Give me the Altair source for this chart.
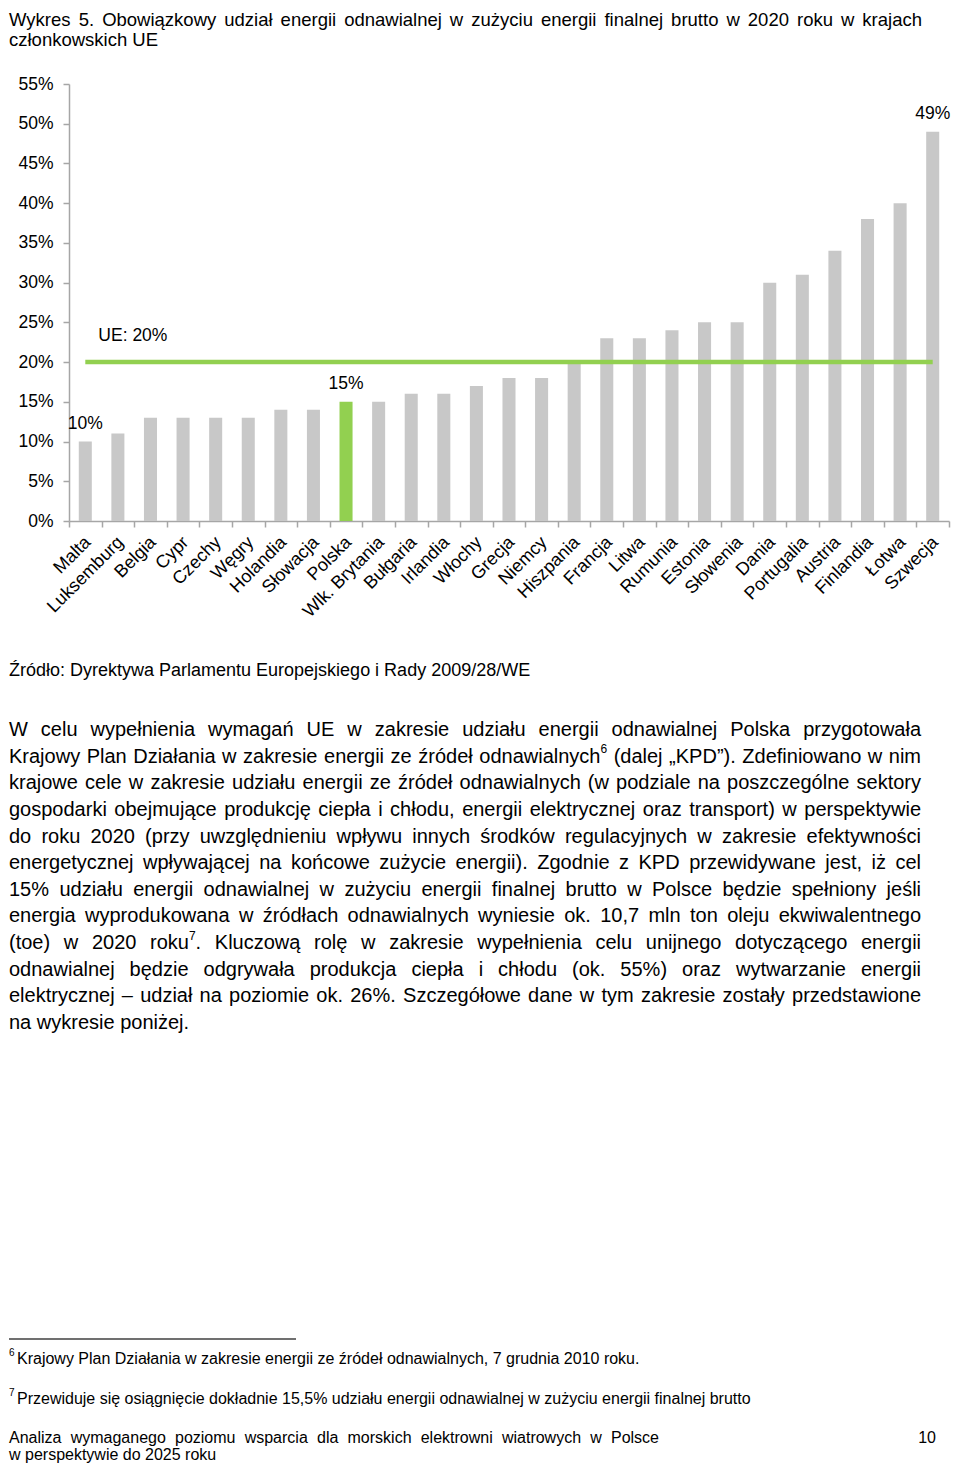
import re
import altair as alt
import pandas as pd

# ---------------- chart data ----------------
countries = ["Malta", "Luksemburg", "Belgia", "Cypr", "Czechy", "Węgry", "Holandia",
             "Słowacja", "Polska", "Wlk. Brytania", "Bułgaria", "Irlandia", "Włochy",
             "Grecja", "Niemcy", "Hiszpania", "Francja", "Litwa", "Rumunia", "Estonia",
             "Słowenia", "Dania", "Portugalia", "Austria", "Finlandia", "Łotwa", "Szwecja"]
targets = [10, 11, 13, 13, 13, 13, 14, 14, 15, 15, 16, 16, 17, 18, 18, 20, 23, 23, 24,
           25, 25, 30, 31, 34, 38, 40, 49]
eu_target = 20
highlight = "Polska"
labelled = ["Malta", "Polska", "Szwecja"]
y_ticks = [0, 5, 10, 15, 20, 25, 30, 35, 40, 45, 50, 55]

# ---------------- page text ----------------
title_lines = [
    "Wykres 5. Obowiązkowy udział energii odnawialnej w zużyciu energii finalnej brutto w 2020 roku w krajach",
    "członkowskich UE",
]
source_text = "Źródło: Dyrektywa Parlamentu Europejskiego i Rady 2009/28/WE"
body_lines = [
    "W celu wypełnienia wymagań UE w zakresie udziału energii odnawialnej Polska przygotowała",
    "Krajowy Plan Działania w zakresie energii ze źródeł odnawialnych{6} (dalej „KPD”). Zdefiniowano w nim",
    "krajowe cele w zakresie udziału energii ze źródeł odnawialnych (w podziale na poszczególne sektory",
    "gospodarki obejmujące produkcję ciepła i chłodu, energii elektrycznej oraz transport) w perspektywie",
    "do roku 2020 (przy uwzględnieniu wpływu innych środków regulacyjnych w zakresie efektywności",
    "energetycznej wpływającej na końcowe zużycie energii). Zgodnie z KPD przewidywane jest, iż cel",
    "15% udziału energii odnawialnej w zużyciu energii finalnej brutto w Polsce będzie spełniony jeśli",
    "energia wyprodukowana w źródłach odnawialnych wyniesie ok. 10,7 mln ton oleju ekwiwalentnego",
    "(toe) w 2020 roku{7}. Kluczową rolę w zakresie wypełnienia celu unijnego dotyczącego energii",
    "odnawialnej będzie odgrywała produkcja ciepła i chłodu (ok. 55%) oraz wytwarzanie energii",
    "elektrycznej – udział na poziomie ok. 26%. Szczegółowe dane w tym zakresie zostały przedstawione",
    "na wykresie poniżej.",
]
footnote_marks = ["{6}", "{7}"]
footnotes = [
    "Krajowy Plan Działania w zakresie energii ze źródeł odnawialnych, 7 grudnia 2010 roku.",
    "Przewiduje się osiągnięcie dokładnie 15,5% udziału energii odnawialnej w zużyciu energii finalnej brutto",
]
footer_lines = [
    "Analiza wymaganego poziomu wsparcia dla morskich elektrowni wiatrowych w Polsce",
    "w perspektywie do 2025 roku",
]
page_number = "10"

FONT = "Liberation Sans, Arial, Helvetica, sans-serif"
GREEN = "#92D050"
GREY = "#C8C8C8"
AXIS = "#A6A6A6"

# ---------------- Arial metrics for text layout ----------------
CW = dict(a=556, b=556, c=500, d=556, e=556, f=278, g=556, h=556, i=222, j=222, k=500,
          l=222, m=833, n=556, o=556, p=556, q=556, r=333, s=500, t=278, u=556, v=500,
          w=722, x=500, y=500, z=500,
          A=667, B=667, C=722, D=722, E=667, F=611, G=778, H=722, I=278, J=500, K=667,
          L=556, M=833, N=722, O=778, P=667, Q=778, R=722, S=667, T=611, U=722, V=667,
          W=944, X=667, Y=667, Z=611)
CW.update({" ": 278, ".": 278, ",": 278, ":": 278, ";": 278, "(": 333, ")": 333,
           "%": 889, "/": 278, "-": 333, "–": 556, "„": 333, "”": 333, '"': 355,
           "ą": 556, "ć": 500, "ę": 556, "ł": 222, "ń": 556, "ó": 556, "ś": 500,
           "ź": 500, "ż": 500, "Ź": 611, "Ż": 611, "Ł": 556, "Ś": 667, "Ó": 778})


def tw(s, size):
    return sum(CW.get(ch, 556) for ch in s) * size / 1000.0


def layout(line, X0, Y, size, target=None):
    """Return text pieces (page coords) for one line; justify to target width."""
    words = line.split(" ")
    wsegs = []
    for w in words:
        segs = []
        for part in re.split(r"(\{\d\})", w):
            if not part:
                continue
            if part.startswith("{"):
                ss = round(size * 0.6)
                segs.append((part[1:-1], ss, -size * 0.38, tw(part[1:-1], ss)))
            else:
                segs.append((part, size, 0.0, tw(part, size)))
        wsegs.append(segs)
    widths = [sum(s[3] for s in segs) for segs in wsegs]
    gap = tw(" ", size)
    if target is not None and len(words) > 1:
        gap = (target - sum(widths)) / (len(words) - 1)
    out = []
    x = X0
    for segs, wdt in zip(wsegs, widths):
        xx = x
        for txt, fs, dy, w in segs:
            out.append({"X": xx, "Y": Y + dy, "text": txt, "fs": fs})
            xx += w
        x += wdt + gap
    return out


LEFT = 9
pieces = []
pieces += layout(title_lines[0], LEFT, 19.5, 18.5, target=922 - LEFT)
pieces += layout(title_lines[1], LEFT, 40, 18.5)
pieces += layout(source_text, LEFT, 671, 18)
for i, ln in enumerate(body_lines):
    tgt = 921 - LEFT if i < len(body_lines) - 1 else None
    pieces += layout(ln, LEFT, 730 + i * 26.64, 20, target=tgt)
for mark, fn, yy in zip(footnote_marks, footnotes, [1359, 1399]):
    pieces += layout(mark, LEFT, yy, 16)
    pieces += layout(fn, LEFT + 8, yy, 16)
pieces += layout(footer_lines[0], LEFT, 1438, 16, target=659 - LEFT)
pieces += layout(footer_lines[1], LEFT, 1455, 16)
pieces += [{"X": 936 - tw(page_number, 16), "Y": 1438, "text": page_number, "fs": 16}]

OX, OY = 69, 84  # page position of plot origin (8px margin + padding)
tdf = pd.DataFrame(pieces)
tdf["px"] = tdf["X"] - OX
tdf["py"] = tdf["Y"] - OY

# ---------------- bar chart ----------------
df = pd.DataFrame({"country": countries, "value": targets})
df["color"] = [GREEN if c == highlight else GREY for c in countries]
df["eu"] = eu_target
df["label"] = [f"{v}%" if c in labelled else "" for c, v in zip(countries, targets)]

xaxis = alt.Axis(title=None, labelAngle=315, labelFont=FONT, labelFontSize=18,
                 labelColor="black", tickBand="extent", tickSize=6,
                 tickColor=AXIS, domainColor=AXIS, tickWidth=1.5,
                 domainWidth=1.5, labelPadding=6, labelOffset=-4,
                 labelOverlap=False)
xscale = alt.Scale(paddingInner=0, paddingOuter=0)
yscale = alt.Scale(domain=[0, 55], nice=False)
yaxis = alt.Axis(title=None, values=y_ticks, tickCount=12, labelExpr="datum.value + '%'",
                 grid=False, labelFont=FONT, labelFontSize=17.5,
                 labelColor="black", tickSize=6, tickColor=AXIS,
                 domainColor=AXIS, tickWidth=1.5, domainWidth=1.5,
                 labelPadding=10, labelOverlap=False)


def X():
    return alt.X("country:N", sort=countries, scale=xscale, axis=xaxis)


def Y(field):
    return alt.Y(field, scale=yscale, axis=yaxis)


base = alt.Chart(df)
bars = base.mark_bar(width=alt.RelativeBandSize(0.4)).encode(
    x=X(), y=Y("value:Q"), color=alt.Color("color:N", scale=None))
line = base.mark_line(color=GREEN, strokeWidth=4.5).encode(x=X(), y=Y("eu:Q"))
vlabels = base.transform_filter(alt.datum.label != "").mark_text(
    font=FONT, fontSize=17.5, color="black", baseline="middle", dy=-18).encode(
    x=X(), y=Y("value:Q"), text="label:N")

eu_df = pd.DataFrame({"country": [countries[1]], "value": [eu_target],
                      "label": [f"UE: {eu_target}%"]})
eu_label = alt.Chart(eu_df).mark_text(
    font=FONT, fontSize=17.5, color="black", baseline="middle", dx=15, dy=-26).encode(
    x=X(), y=Y("value:Q"), text="label:N")

chart_layer = alt.layer(bars, line, vlabels, eu_label)

page_text = alt.Chart(tdf).mark_text(
    font=FONT, color="black", align="left", baseline="middle").encode(
    x=alt.X("px:Q", scale=None, axis=None),
    y=alt.Y("py:Q", scale=None, axis=None),
    text="text:N",
    size=alt.Size("fs:Q", scale=None, legend=None))

rule = alt.Chart(pd.DataFrame({"a": [0]})).mark_rule(color="#404040", strokeWidth=1.3).encode(
    x=alt.value(LEFT - OX), x2=alt.value(296 - OX), y=alt.value(1339 - OY))

chart = alt.layer(chart_layer, page_text, rule).resolve_scale(
    x="independent", y="independent").properties(
    width=880, height=437,
    padding={"left": 61, "top": 76, "right": 3, "bottom": 944},
    autosize=alt.AutoSizeParams(type="none"),
).configure(background="white", view=alt.ViewConfig(stroke=None))

chart.save("out.html", embed_options={"renderer": "svg", "actions": False})
